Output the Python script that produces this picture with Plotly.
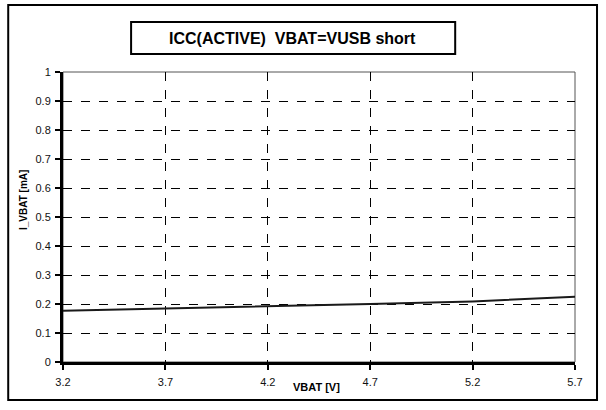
import plotly.graph_objects as go

# data
vbat = [3.2, 3.7, 4.2, 4.7, 5.2, 5.7]
i_vbat = [0.177, 0.184, 0.191, 0.200, 0.209, 0.225]
x_ticks = [3.2, 3.7, 4.2, 4.7, 5.2, 5.7]
y_ticks = [0, 0.1, 0.2, 0.3, 0.4, 0.5, 0.6, 0.7, 0.8, 0.9, 1]

font = "Liberation Sans, Arial, sans-serif"

fig = go.Figure()
fig.add_trace(go.Scatter(x=vbat, y=i_vbat, mode='lines',
                         line=dict(color='#1a1a1a', width=2), showlegend=False))

axis_common = dict(showgrid=True, gridcolor='black', griddash='dash', gridwidth=1,
                   zeroline=False, ticks='outside', ticklen=5, tickwidth=2,
                   tickcolor='black', showline=True, linecolor='black', linewidth=3,
                   automargin=False,
                   tickfont=dict(family=font, size=11, color='#111111'))

fig.update_xaxes(range=[3.2, 5.7], tickvals=x_ticks,
                 ticktext=[str(v) for v in x_ticks], ticklabelstandoff=3,
                 **axis_common)
fig.update_yaxes(range=[0, 1], tickvals=y_ticks,
                 ticktext=[('%g' % v) for v in y_ticks], ticklabelstandoff=2,
                 **axis_common)

# axis titles
fig.add_annotation(xref='paper', yref='paper', x=0.496, y=-0.086,
                   text='<b>VBAT [V]</b>', showarrow=False,
                   xanchor='center', yanchor='middle',
                   font=dict(family=font, size=11, color='black'))
fig.add_annotation(xref='paper', yref='paper', x=-0.076, y=0.559,
                   text='<b>I_VBAT [mA]</b>', showarrow=False, textangle=-90,
                   xanchor='center', yanchor='middle',
                   font=dict(family=font, size=10, color='black'))

# plot frame (top/right)
fig.add_shape(type='rect', xref='paper', yref='paper', x0=0, y0=0, x1=1, y1=1,
              line=dict(color='#555555', width=1), layer='below')
# outer border
fig.add_shape(type='rect', xref='paper', yref='paper', x0=-0.107, y0=-0.131,
              x1=1.043, y1=1.231, line=dict(color='black', width=2))
# title box
fig.add_shape(type='rect', xref='paper', yref='paper', x0=0.133, y0=1.062,
              x1=0.766, y1=1.172, line=dict(color='black', width=2))
fig.add_annotation(xref='paper', yref='paper', x=0.449, y=1.117,
                   text='<b>ICC(ACTIVE)  VBAT=VUSB short</b>', showarrow=False,
                   xanchor='center', yanchor='middle',
                   font=dict(family=font, size=16, color='black'))

fig.update_layout(width=606, height=410,
                  margin=dict(l=63, r=31, t=72, b=48),
                  paper_bgcolor='white', plot_bgcolor='white')

fig.write_html("out.html", config={'displayModeBar': False},
               post_script="document.body.style.margin='0';")
